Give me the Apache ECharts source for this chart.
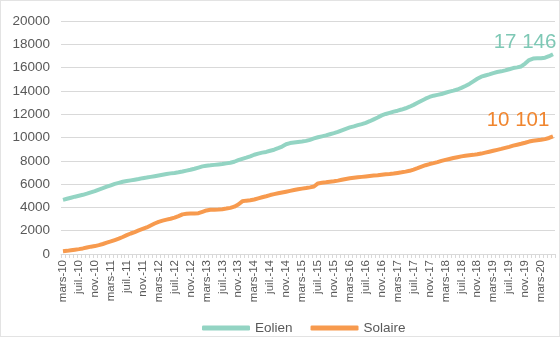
<!DOCTYPE html>
<html>
<head>
<meta charset="utf-8">
<script src="https://cdn.jsdelivr.net/npm/echarts@6/dist/echarts.min.js"></script>
<style>
html,body{margin:0;padding:0;background:#fff;}
#chart{width:560px;height:337px;box-sizing:border-box;border:1px solid #e3e3e3;}
</style>
</head>
<body>
<div id="chart"></div>
<script>
// Month names (French, Excel style) and years covered: mars-10 .. juin-20
const monthNames = ['janv.','févr.','mars','avr.','mai','juin','juil.','août','sept.','oct.','nov.','déc.'];
const startMonth = 2, startYear = 10, nMonths = 124;
const categories = [];
for (let k = 0; k < nMonths; k++) {
  const m = (startMonth + k) % 12;
  const y = startYear + Math.floor((startMonth + k) / 12);
  categories.push(monthNames[m] + '-' + y);
}

// Installed capacity (MW), monthly
const eolien = [
  4650, 4740, 4830, 4920, 5000, 5080, 5180, 5290, 5400, 5530,
  5650, 5780, 5900, 6020, 6110, 6200, 6260, 6320, 6380, 6440, 6510, 6560,
  6620, 6680, 6740, 6800, 6860, 6920, 6960, 7010, 7080, 7160, 7230, 7320,
  7420, 7520, 7580, 7610, 7650, 7690, 7720, 7780, 7830, 7920, 8060, 8170,
  8270, 8380, 8520, 8620, 8700, 8760, 8860, 8950, 9080, 9220, 9420, 9520,
  9570, 9620, 9660, 9710, 9800, 9920, 10020, 10100, 10180, 10280, 10370, 10480,
  10620, 10750, 10870, 10960, 11060, 11150, 11260, 11400, 11560, 11720, 11900, 12020,
  12120, 12220, 12300, 12400, 12510, 12640, 12800, 12980, 13160, 13330, 13480, 13590,
  13660, 13730, 13840, 13940, 14020, 14120, 14260, 14420, 14600, 14820, 15040, 15220,
  15320, 15420, 15530, 15620, 15680, 15760, 15860, 15960, 16020, 16100, 16350, 16650,
  16780, 16800, 16810, 16850, 16980, 17146
];
const solaire = [
  230, 270, 320, 370, 420, 480, 560, 630, 680, 760,
  860, 970, 1080, 1200, 1320, 1460, 1620, 1760, 1880, 2020, 2150, 2280,
  2450, 2620, 2760, 2860, 2950, 3030, 3120, 3250, 3400, 3450, 3470, 3480,
  3500, 3620, 3740, 3790, 3800, 3820, 3850, 3900, 3960, 4060, 4250, 4520,
  4580, 4620, 4680, 4780, 4870, 4960, 5060, 5140, 5210, 5280, 5350, 5420,
  5490, 5550, 5610, 5660, 5720, 5790, 6060, 6110, 6150, 6200, 6240, 6300,
  6370, 6440, 6500, 6540, 6580, 6620, 6660, 6700, 6730, 6760, 6800, 6840,
  6870, 6910, 6960, 7010, 7070, 7140, 7250, 7370, 7500, 7620, 7720, 7800,
  7890, 7990, 8080, 8160, 8240, 8310, 8380, 8430, 8470, 8510, 8560, 8620,
  8700, 8780, 8860, 8940, 9020, 9110, 9200, 9300, 9380, 9460, 9550, 9650,
  9720, 9760, 9800, 9860, 9960, 10101
];
const seriesNames = ['Eolien', 'Solaire'];

function fmtSpace(v) {
  return String(v).replace(/\B(?=(\d{3})+(?!\d))/g, ' ');
}

const FONT = '"Liberation Sans", Arial, sans-serif';
const lastIdx = categories.length - 1;

function endMark(values, color, offset) {
  return {
    symbol: 'circle', symbolSize: 0, silent: true,
    data: [{ coord: [categories[lastIdx], values[lastIdx]], value: values[lastIdx] }],
    label: {
      show: true, position: 'top', offset: offset,
      formatter: p => fmtSpace(p.value),
      color: color, fontSize: 20.5, fontFamily: FONT
    }
  };
}

const chart = echarts.init(document.getElementById('chart'), null, { renderer: 'canvas' });
chart.setOption({
  animation: false,
  backgroundColor: '#fff',
  grid: { left: 60, right: 4, top: 20, bottom: 82, containLabel: false },
  legend: {
    top: 315, left: 196,
    itemWidth: 48, itemHeight: 5, itemGap: 18,
    icon: 'roundRect',
    textStyle: { color: '#595959', fontSize: 13.5, fontFamily: FONT },
    data: seriesNames
  },
  xAxis: {
    type: 'category',
    data: categories,
    boundaryGap: true,
    axisLine: { lineStyle: { color: '#d9d9d9' } },
    axisTick: { show: true, interval: 0, length: 4, lineStyle: { color: '#d9d9d9' } },
    axisLabel: {
      interval: 3, rotate: 90, color: '#595959', fontSize: 11.5,
      fontFamily: FONT, margin: 6, hideOverlap: false
    }
  },
  yAxis: {
    type: 'value', min: 0, max: 20000, interval: 2000,
    axisLine: { show: false }, axisTick: { show: false },
    axisLabel: { color: '#595959', fontSize: 13.5, fontFamily: FONT, margin: 11,
      formatter: v => String(v) },
    splitLine: { lineStyle: { color: '#d9d9d9', width: 1 } }
  },
  series: [
    {
      name: seriesNames[0], type: 'line', data: eolien,
      showSymbol: false, symbol: 'none',
      lineStyle: { width: 4, color: '#93d4c3' },
      itemStyle: { color: '#93d4c3' },
      markPoint: endMark(eolien, '#7ec8b5', [-28, 4])
    },
    {
      name: seriesNames[1], type: 'line', data: solaire,
      showSymbol: false, symbol: 'none',
      lineStyle: { width: 4, color: '#f79a4e' },
      itemStyle: { color: '#f79a4e' },
      markPoint: endMark(solaire, '#f0852e', [-35, 0])
    }
  ]
});
</script>
</body>
</html>
